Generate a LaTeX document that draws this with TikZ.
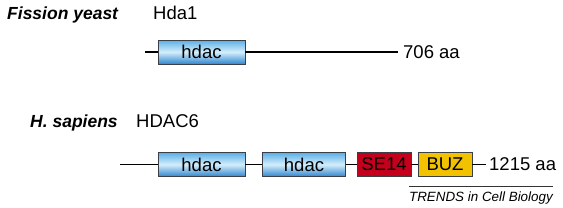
\documentclass[tikz,border=0pt]{standalone}
\usepackage{fontspec}
\setmainfont{Liberation Sans}
\definecolor{dblue}{HTML}{2F86D0}
\definecolor{mblue}{HTML}{5AAEE6}
\definecolor{lblue}{HTML}{D4EEFB}
\definecolor{sered}{HTML}{C4001C}
\definecolor{buzyel}{HTML}{F2C200}
\definecolor{edge}{HTML}{3A4048}
\begin{document}
\begin{tikzpicture}[x=1pt,y=-1pt,
  chain/.style={line width=1.5pt,black},
  dom/.style={draw=edge,line width=0.9pt,minimum height=24pt,inner sep=0pt,font=\fontsize{18.5}{18.5}\selectfont},
  hdacbox/.style={dom,top color=mblue,bottom color=dblue,middle color=lblue,minimum width=87pt},
  sebox/.style={dom,fill=sered,minimum width=54pt},
  buzbox/.style={dom,fill=buzyel,minimum width=54pt},
  lbl/.style={font=\fontsize{18.5}{18.5}\selectfont,inner sep=0pt},
  species/.style={font=\fontsize{17.5}{17.5}\selectfont\bfseries\itshape,inner sep=0pt}]
\useasboundingbox (0,0) rectangle (563,207);
% Fission yeast
\node[species,anchor=base west] (fy) at (7,19) {Fission yeast};
\node[lbl,anchor=base west] (hda1) at (153,19) {Hda1};
\coordinate (s1) at (145,52);
\coordinate (e1) at (398,52);
\node[hdacbox] (h1) at (201.5,52) {hdac};
\draw[chain] (s1) -- (h1.west);
\draw[chain] (h1.east) -- (e1);
\node[lbl,anchor=west] (aa1) at (403,52) {706 aa};
% H. sapiens
\node[species,anchor=base west] (hs) at (30,127) {H. sapiens};
\node[lbl,anchor=base west] (hdac6) at (136,127) {HDAC6};
\coordinate (s2) at (120,164.5);
\coordinate (e2) at (486,164.5);
\node[hdacbox] (h2) at (201.5,164.5) {hdac};
\node[hdacbox,minimum width=83pt] (h3) at (304,164.5) {hdac};
\node[sebox] (se) at (384,164.5) {SE14};
\node[buzbox] (buz) at (445,164.5) {BUZ};
\draw[chain] (s2) -- (h2.west);
\draw[chain] (h2.east) -- (h3.west);
\draw[chain] (h3.east) -- (se.west);
\draw[chain] (se.east) -- (buz.west);
\draw[chain] (buz.east) -- (e2);
\node[lbl,anchor=west] (aa2) at (489,164.5) {1215 aa};
% credit
\coordinate (r1) at (409,186);
\coordinate (r2) at (553,186);
\draw[line width=0.8pt,black!80] (r1) -- (r2);
\node[font=\fontsize{13.4}{13.4}\selectfont\itshape,inner sep=0pt,anchor=base east] (tr) at (553,201) {TRENDS in Cell Biology};
\end{tikzpicture}
\end{document}
